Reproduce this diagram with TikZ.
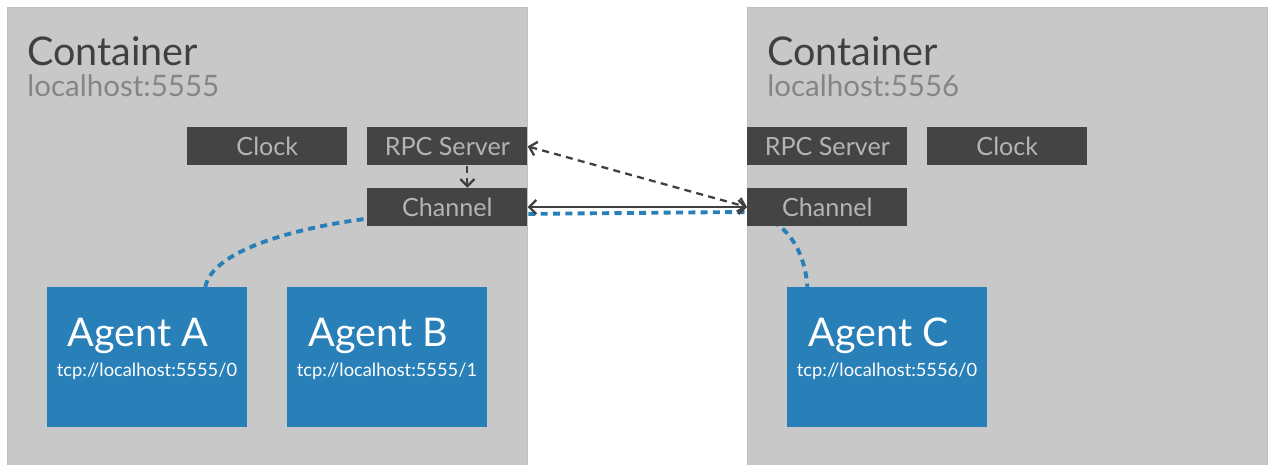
\documentclass[tikz,border=0pt]{standalone}
\usepackage{fontspec}
\setmainfont{Lato}
\usepackage{xcolor}
\usetikzlibrary{%
    positioning,%
    arrows.meta%
}
\definecolor{boxgray}{HTML}{C8C8C8}
\definecolor{darkbox}{HTML}{444444}
\definecolor{boxtext}{HTML}{B4B4B4}
\definecolor{agentblue}{HTML}{2980B9}
\definecolor{linkgray}{HTML}{404040}

\begin{document}
\begin{tikzpicture}[
        x=0.02cm, y=-0.02cm,
        container/.style={fill=boxgray, draw=black!25, line width=0.4pt,
            anchor=north west, inner sep=0,
            minimum width=10.4cm, minimum height=9.4cm},
        title/.style={anchor=base west, inner sep=0, text=linkgray,
            font={\fontsize{22.5}{22.5}\selectfont}},
        host/.style={anchor=base west, inner sep=0, text=black!48,
            font={\fontsize{16.8}{16.8}\selectfont}},
        part/.style={fill=darkbox, anchor=north west, inner sep=0,
            minimum width=3.2cm, minimum height=0.76cm, text=boxtext,
            font={\fontsize{14.3}{14.3}\selectfont}},
        agent/.style={fill=agentblue, anchor=north west, inner sep=0,
            minimum width=4cm, minimum height=2.8cm},
        agentname/.style={anchor=base west, inner sep=0, text=white,
            font={\fontsize{22.5}{22.5}\selectfont}},
        agentaddr/.style={anchor=base, inner sep=0, text=white,
            font={\fontsize{10.4}{10.4}\selectfont}},
        link/.style={draw=agentblue, line width=2.2pt,
            dash pattern=on 4pt off 3pt},
        call/.style={draw=linkgray, line width=1.3pt,
            {Straight Barb[length=4pt,width=8pt]}-{Straight Barb[length=4pt,width=8pt]}},
        ]
        % page
        \useasboundingbox (0, 0) rectangle (1270, 464);

        % containers
        \node[container] (left) at (7, 7) {};
        \node[container] (right) at (747, 7) {};
        \node[title] (leftname) at (27, 65) {Container};
        \node[host] (lefthost) at (27, 96) {localhost:5555};
        \node[title] (rightname) at (767, 65) {Container};
        \node[host] (righthost) at (767, 96) {localhost:5556};

        % agents
        \node[agent] (agentA) at (47, 287) {};
        \node[agent] (agentB) at (287, 287) {};
        \node[agent] (agentC) at (787, 287) {};
        \node[agentname] (nameA) at (67, 346) {Agent A};
        \node[agentname] (nameB) at (308, 346) {Agent B};
        \node[agentname] (nameC) at (808, 346) {Agent C};
        \node[agentaddr] (addrA) at (147, 376) {tcp://localhost:5555/0};
        \node[agentaddr] (addrB) at (387, 376) {tcp://localhost:5555/1};
        \node[agentaddr] (addrC) at (887, 376) {tcp://localhost:5556/0};

        % agent links, behind the channels
        \draw[link] ([xshift=1.16cm]agentA.north)
            .. controls (212, 250) and (300, 224) .. (400, 215)
            -- (740, 212)
            .. controls (785, 214) and (805, 250) .. ([xshift=-1.6cm]agentC.north);

        % left container parts
        \node[part] (clockA) at (187, 127) {Clock};
        \node[part] (rpcA) at (367, 127) {RPC Server};
        \node[part, below=0.44cm of rpcA.south west, anchor=north west] (channelA) {Channel};

        % right container parts
        \node[part] (rpcB) at (747, 127) {RPC Server};
        \node[part] (clockB) at (927, 127) {Clock};
        \node[part, below=0.44cm of rpcB.south west, anchor=north west] (channelB) {Channel};

        % calls
        \draw[call, dash pattern=on 4pt off 3pt, -{Straight Barb[length=4pt,width=8pt]}]
            ([xshift=0.4cm]rpcA.south) -- ([xshift=0.4cm]channelA.north);
        \draw[call, dash pattern=on 4pt off 3pt] (rpcA.east) -- (channelB.west);
        \draw[call] (channelA.east) -- (channelB.west);
    \end{tikzpicture}
\end{document}
